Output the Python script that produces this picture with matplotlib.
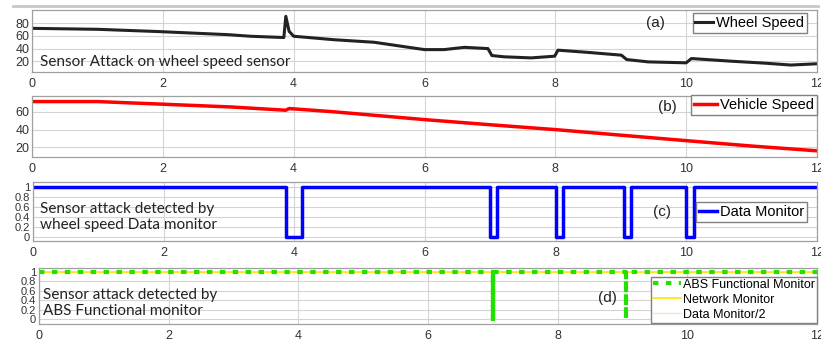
import matplotlib
matplotlib.use('Agg')
import matplotlib.pyplot as plt
from matplotlib.lines import Line2D

# values
t_wheel = [0, 1, 1.96, 3.0, 3.34, 3.85, 3.88, 3.93, 4.0, 4.62, 5.23, 5.64, 6.0, 6.3, 6.61, 6.97,
           7.03, 7.22, 7.63, 7.99, 8.04, 8.5, 9.01, 9.09, 9.42, 10.0, 10.08, 10.7, 11.2, 11.6, 12.0]
v_wheel = [72, 70.5, 66.8, 62, 59.5, 57.5, 91, 67.4, 59.5, 54, 50, 43.8, 38.4, 38.4, 42, 40,
           29, 27, 25.3, 28, 37.5, 34, 29.6, 22.7, 19, 17.5, 24.3, 20, 17, 14, 16]

t_vehicle = [0, 1, 2.01, 3.04, 3.88, 3.93, 4.57, 5.34, 6.05, 7.0, 8.0, 9.0, 10.0, 11.0, 12.0]
v_vehicle = [71.7, 71.7, 68.7, 65.6, 61.9, 63.8, 60.4, 55.5, 51, 45.5, 40, 33.7, 27.5, 21.4, 16]

t_data = [0, 3.87, 3.87, 4.12, 4.12, 7.0, 7.0, 7.1, 7.1, 8.0, 8.0, 8.11, 8.11,
          9.05, 9.05, 9.15, 9.15, 10.0, 10.0, 10.11, 10.11, 12.0]
v_data = [1, 1, 0, 0, 1, 1, 0, 0, 1, 1, 0, 0, 1, 1, 0, 0, 1, 1, 0, 0, 1, 1]

t_abs = [0, 7.0, 7.0, 7.0, 7.0, 7.0, 7.0, 7.0, 9.05, 9.05, 9.05, 12.0]
v_abs = [1, 1, 0, 1, 0, 1, 0, 1, 1, 0, 1, 1]
t_net = [0, 12]
v_net = [1, 1]
t_dm2 = [0, 12]
v_dm2 = [1, 1]

xticks = [0, 2, 4, 6, 8, 10, 12]
W, H = 821, 342

fig = plt.figure(figsize=(W / 100, H / 100), dpi=100)
plt.rcParams['font.family'] = 'Liberation Sans'


def add_ax(left, top, right, bottom):
    return fig.add_axes([left / W, 1 - bottom / H, (right - left) / W, (bottom - top) / H])


def style(ax, ylim, yticks, ylabels, yfs=9):
    ax.set_xlim(0, 12)
    ax.set_ylim(*ylim)
    ax.set_xticks(xticks)
    ax.set_yticks(yticks)
    ax.set_yticklabels(ylabels)
    ax.tick_params(axis='x', labelsize=9, colors='#333333', length=0, pad=4)
    ax.tick_params(axis='y', labelsize=yfs, colors='#333333', length=0, pad=2)
    ax.grid(True, color='#d4d4d4', lw=0.8)
    for s in ax.spines.values():
        s.set_color('#a0a0a0')
        s.set_linewidth(0.9)


ax_a = add_ax(32, 10, 817, 72)
ax_b = add_ax(32, 96, 817, 157)
ax_c = add_ax(33, 182, 817, 241)
ax_d = add_ax(39, 268, 817, 324)

# (a) wheel speed
ax_a.plot(t_wheel, v_wheel, color='#222222', lw=2.2, label='Wheel Speed')
style(ax_a, (3, 101), [20, 40, 60, 80], ['20', '40', '60', '80'])
ax_a.text(0.12, 19, 'Sensor Attack on wheel speed sensor', family='Lato', fontsize=11,
          va='center', color='#222222')
leg = ax_a.legend(loc='upper right', bbox_to_anchor=(0.987, 0.95), fontsize=10.5,
                  handlelength=1.2, handletextpad=0.2, borderpad=0.2, borderaxespad=0,
                  fancybox=False, framealpha=1)
leg.get_frame().set_edgecolor('#808080')

# (b) vehicle speed
ax_b.plot(t_vehicle, v_vehicle, color='#ff0000', lw=2.5, label='Vehicle Speed')
style(ax_b, (9, 78), [20, 40, 60], ['20', '40', '60'])
leg = ax_b.legend(loc='upper right', bbox_to_anchor=(1.0, 1.015), fontsize=10.5,
                  handlelength=1.6, handletextpad=0.2, borderpad=0.2, borderaxespad=0,
                  fancybox=False, framealpha=1)
leg.get_frame().set_edgecolor('#808080')

# (c) data monitor
ax_c.plot(t_data, v_data, color='#0000ff', lw=2.5, label='Data Monitor',
          solid_joinstyle='round')
ylab = ['0', '0.2', '0.4', '0.6', '0.8', '1']
style(ax_c, (-0.09, 1.1), [0, 0.2, 0.4, 0.6, 0.8, 1], ylab, yfs=8)
ax_c.text(0.11, 0.39, 'Sensor attack detected by\nwheel speed Data monitor', family='Lato',
          fontsize=11, va='center', linespacing=1.2, color='#222222')
leg = ax_c.legend(loc='upper right', bbox_to_anchor=(0.987, 0.66), fontsize=10.5,
                  handlelength=1.2, handletextpad=0.2, borderpad=0.2, borderaxespad=0,
                  fancybox=False, framealpha=1)
leg.get_frame().set_edgecolor('#808080')

# (d) functional monitor
ax_d.plot(t_dm2, v_dm2, color='#fbe3c8', lw=1, label='Data Monitor/2')
ax_d.plot(t_net, v_net, color='#ffe600', lw=1.2, label='Network Monitor')
ax_d.plot(t_abs, v_abs, color='#22e000', lw=3, ls=(0, (1.3, 1.8)), label='ABS Functional Monitor')
style(ax_d, (-0.1, 1.08), [0, 0.2, 0.4, 0.6, 0.8, 1], ylab, yfs=8)
ax_d.text(0.06, 0.35, 'Sensor attack detected by\nABS Functional monitor', family='Lato',
          fontsize=11, va='center', linespacing=1.2, color='#222222')
h, l = ax_d.get_legend_handles_labels()
leg = ax_d.legend(h[::-1], l[::-1], loc='upper right', bbox_to_anchor=(1.0, 0.845), fontsize=9,
                  handlelength=2.2, handletextpad=0.2, borderpad=0.15, borderaxespad=0,
                  labelspacing=0.25, fancybox=False, framealpha=1)
leg.get_frame().set_edgecolor('#808080')

for lab, x, y in [('(a)', 655, 23), ('(b)', 667, 107), ('(c)', 662, 212), ('(d)', 607, 298)]:
    fig.text(x / W, 1 - y / H, lab, fontsize=11, ha='center', va='center', color='#222222')

fig.add_artist(Line2D([13 / W, 818 / W], [1 - 6 / H, 1 - 6 / H], color='#c8c8c8', lw=2))

fig.savefig('out.png', dpi=100)
